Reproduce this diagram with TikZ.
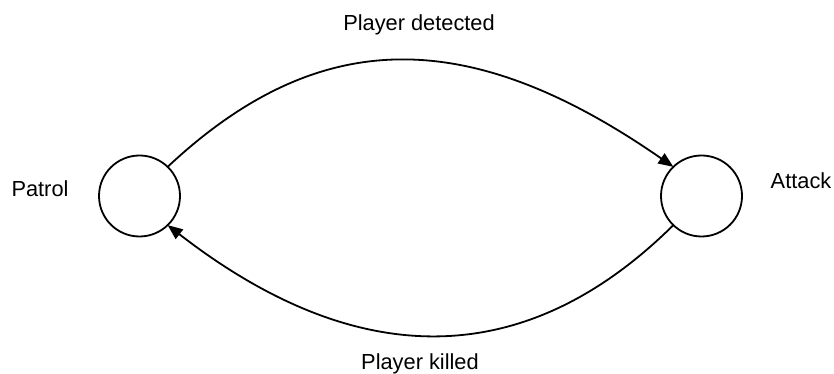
\documentclass[tikz,border=0pt]{standalone}
\usepackage{fontspec}
\setmainfont{Liberation Sans}
\usetikzlibrary{arrows.meta}
\begin{document}
\begin{tikzpicture}[x=1pt,y=1pt,
  state/.style={draw, circle, line width=1.8pt, minimum size=81pt, inner sep=0pt, outer sep=0pt},
  lbl/.style={anchor=base, inner sep=0pt, font=\fontsize{21.8}{26}\selectfont},
  trans/.style={line width=1.8pt, -{Triangle[length=15pt,width=12pt]}}]
\useasboundingbox (0,0) rectangle (834,374);
\node[state] (L) at (139.5,178) {};
\node[state] (R) at (701.5,178) {};
\node[lbl] (lp) at (40,177) {Patrol};
\node[lbl] (la) at (801,185) {Attack};
\node[lbl] (ld) at (419,343) {Player detected};
\node[lbl] (lk) at (420,4) {Player killed};
\draw[trans] (L.46) .. controls (319,349) and (469,349) .. (R.134);
\draw[trans] (R.-134) .. controls (525,2) and (357,2) .. (L.-46);
\end{tikzpicture}
\end{document}
